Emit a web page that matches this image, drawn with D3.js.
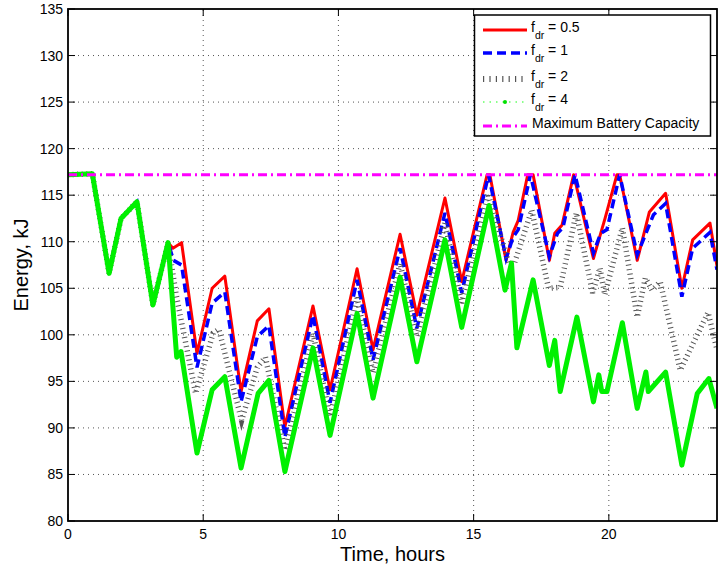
<!DOCTYPE html>
<html>
<head>
<meta charset="utf-8">
<script src="https://cdn.jsdelivr.net/npm/d3@7"></script>
<style>
  body { margin: 0; background: white; }
  text { font-family: "Liberation Sans", Arial, sans-serif; }
</style>
</head>
<body>
<svg id="chart" width="722" height="570"></svg>
<script>
  // values (time in hours, energy in kJ)
  let capacity = 117.2;
  let xTicks = [0, 5, 10, 15, 20];
  let yTicks = [80, 85, 90, 95, 100, 105, 110, 115, 120, 125, 130, 135];

  let tStart = [0, 0.9, 1.52, 1.96, 2.55, 3.14, 3.7];
  let eStart = [117.2, 117.3, 106.6, 112.5, 114.3, 103.2, 109.9];

  let tRed = [3.88, 4.2, 4.77, 5.33, 5.8, 6.4, 7.0, 7.43, 8.02, 9.06, 9.69, 10.69, 11.28, 12.28, 12.9, 13.94, 14.56, 15.5, 15.6, 16.2, 16.46, 16.65, 17.0, 17.2, 17.8, 18.0, 18.27, 18.7, 19.43, 19.86, 20.3, 20.4, 21.05, 21.5, 22.1, 22.7, 23.1, 23.74, 24.0];
  let eRed = [109.3, 109.9, 98.0, 105.0, 106.3, 93.9, 101.5, 102.8, 90.1, 103.1, 94.1, 107.1, 98.4, 110.8, 102.1, 114.7, 105.7, 117.2, 117.2, 108.0, 111.0, 112.3, 117.2, 117.2, 108.0, 110.9, 111.8, 117.2, 108.2, 112.5, 117.2, 117.2, 108.0, 113.2, 115.2, 105.0, 110.2, 112.0, 107.4];

  let tBlue = [3.9, 4.2, 4.77, 5.33, 5.8, 6.4, 7.0, 7.43, 8.02, 9.06, 9.69, 10.69, 11.28, 12.28, 12.9, 13.94, 14.56, 15.55, 16.2, 16.46, 16.65, 17.1, 17.8, 18.1, 18.3, 18.75, 19.43, 19.7, 19.93, 20.4, 21.05, 21.65, 22.1, 22.7, 23.1, 23.74, 24.0];
  let eBlue = [108.0, 107.5, 96.5, 103.4, 104.6, 92.8, 99.8, 101.0, 89.0, 102.1, 92.7, 105.9, 97.3, 109.3, 100.7, 113.1, 104.5, 117.2, 108.2, 110.5, 111.3, 117.2, 108.4, 110.9, 111.5, 117.2, 108.8, 110.9, 111.3, 117.2, 108.6, 112.9, 114.1, 104.1, 109.3, 111.0, 107.0];

  let tBlack = [4.0, 4.72, 5.37, 5.58, 6.42, 7.0, 7.3, 8.02, 9.06, 9.69, 10.69, 11.28, 12.28, 12.9, 13.94, 14.56, 15.53, 16.3, 16.5, 17.15, 17.77, 18.2, 18.8, 19.4, 19.67, 19.85, 20.5, 21.05, 21.35, 21.6, 21.9, 22.64, 23.67, 24.0];
  let eBlack = [104.3, 93.7, 100.2, 100.6, 90.8, 96.5, 97.6, 87.6, 100.2, 91.2, 104.0, 95.9, 107.7, 99.8, 112.0, 103.4, 115.2, 107.7, 107.6, 113.4, 105.0, 105.1, 113.1, 104.5, 107.2, 104.3, 111.5, 101.9, 106.1, 104.8, 105.7, 96.2, 102.4, 98.4];

  let tGreen = [4.02, 4.18, 4.77, 5.33, 5.8, 6.4, 7.03, 7.43, 8.02, 9.06, 9.69, 10.69, 11.28, 12.28, 12.9, 13.94, 14.56, 15.57, 16.16, 16.4, 16.6, 17.2, 17.8, 18.0, 18.2, 18.82, 19.43, 19.63, 19.74, 19.93, 20.5, 21.05, 21.37, 21.46, 22.1, 22.7, 23.27, 23.7, 24.0];
  let eGreen = [97.6, 98.2, 87.3, 94.1, 95.5, 85.7, 93.7, 95.1, 85.3, 98.6, 89.2, 102.3, 93.2, 106.2, 97.1, 110.2, 100.8, 113.9, 104.8, 107.7, 98.6, 105.9, 96.7, 99.4, 93.9, 101.9, 92.8, 95.7, 93.9, 93.9, 101.3, 92.1, 96.0, 93.9, 96.0, 86.0, 93.7, 95.3, 92.1];

  let legendLabels = ["0.5", "1", "2", "4"];

  let svg = d3.select("#chart"),
    width = +svg.attr("width"),
    height = +svg.attr("height");
  let margin = {top: 9, right: 5, bottom: 49, left: 68};

  let x = d3.scaleLinear().domain([0, 24]).range([margin.left, width - margin.right]);
  let y = d3.scaleLinear().domain([80, 135]).range([height - margin.bottom, margin.top]);

  function points(ts, es) {
    let pts = tStart.map(function(t, i){ return [t, eStart[i]]; });
    return pts.concat(ts.map(function(t, i){ return [t, es[i]]; }));
  }

  // grid
  let grid = svg.append("g");
  grid.selectAll(".gx").data(xTicks.slice(1)).enter().append("line")
    .attr("x1", function(d){ return x(d); }).attr("x2", function(d){ return x(d); })
    .attr("y1", y(80)).attr("y2", y(135))
    .attr("stroke", "#555").attr("stroke-width", 1).attr("stroke-dasharray", "1,4");
  grid.selectAll(".gy").data(yTicks.slice(1, -1)).enter().append("line")
    .attr("y1", function(d){ return y(d); }).attr("y2", function(d){ return y(d); })
    .attr("x1", x(0)).attr("x2", x(24))
    .attr("stroke", "#555").attr("stroke-width", 1).attr("stroke-dasharray", "1,4");

  svg.append("clipPath").attr("id", "clip").append("rect")
    .attr("x", x(0)).attr("y", y(135)).attr("width", x(24) - x(0)).attr("height", y(80) - y(135));

  let line = d3.line().x(function(d){ return x(d[0]); }).y(function(d){ return y(d[1]); });
  let plot = svg.append("g").attr("clip-path", "url(#clip)");

  plot.append("path").datum(points(tRed, eRed)).attr("d", line)
    .attr("fill", "none").attr("stroke", "#ff0000").attr("stroke-width", 3).attr("stroke-linejoin", "round");
  plot.append("path").datum(points(tBlue, eBlue)).attr("d", line)
    .attr("fill", "none").attr("stroke", "#0000ff").attr("stroke-width", 3.5).attr("stroke-dasharray", "9,5");
  plot.append("path").datum(points(tBlack, eBlack)).attr("d", line)
    .attr("fill", "none").attr("stroke", "#555").attr("stroke-width", 5.5).attr("stroke-dasharray", "1,3.6");
  plot.append("path").datum(points(tGreen, eGreen)).attr("d", line)
    .attr("fill", "none").attr("stroke", "#00f000").attr("stroke-width", 5).attr("stroke-linejoin", "round");
  plot.append("path").datum([[0, capacity], [24, capacity]]).attr("d", line)
    .attr("fill", "none").attr("stroke", "#ff00ff").attr("stroke-width", 3).attr("stroke-dasharray", "9,4,2,4");

  // axes (ticks inside, box on)
  let tick = 7;
  let axisG = svg.append("g");
  axisG.append("rect")
    .attr("x", x(0)).attr("y", y(135)).attr("width", x(24) - x(0)).attr("height", y(80) - y(135))
    .attr("fill", "none").attr("stroke", "#000").attr("stroke-width", 1.8);
  xTicks.forEach(function(d){
    axisG.append("line").attr("x1", x(d)).attr("x2", x(d)).attr("y1", y(80)).attr("y2", y(80) - tick).attr("stroke", "#000");
    axisG.append("line").attr("x1", x(d)).attr("x2", x(d)).attr("y1", y(135)).attr("y2", y(135) + tick).attr("stroke", "#000");
    axisG.append("text").attr("x", x(d)).attr("y", y(80) + 18).attr("text-anchor", "middle")
      .attr("font-size", 14).text(d);
  });
  yTicks.forEach(function(d){
    axisG.append("line").attr("y1", y(d)).attr("y2", y(d)).attr("x1", x(0)).attr("x2", x(0) + tick).attr("stroke", "#000");
    axisG.append("line").attr("y1", y(d)).attr("y2", y(d)).attr("x1", x(24)).attr("x2", x(24) - tick).attr("stroke", "#000");
    axisG.append("text").attr("x", x(0) - 5).attr("y", y(d) + 5).attr("text-anchor", "end")
      .attr("font-size", 14).text(d);
  });

  svg.append("text").attr("x", (x(0) + x(24)) / 2).attr("y", 561).attr("text-anchor", "middle")
    .attr("font-size", 20).text("Time, hours");
  svg.append("text").attr("transform", "translate(28," + ((y(80) + y(135)) / 2) + ") rotate(-90)")
    .attr("text-anchor", "middle").attr("font-size", 20).text("Energy, kJ");

  // legend
  let lg = svg.append("g");
  lg.append("rect").attr("x", 474.5).attr("y", 15).attr("width", 236).attr("height", 121)
    .attr("fill", "white").attr("stroke", "#000").attr("stroke-width", 1.5);
  let rows = [30, 53, 79, 102, 126];
  let styles = [
    {stroke: "#ff0000", w: 3, dash: null},
    {stroke: "#0000ff", w: 3.5, dash: "9,5"},
    {stroke: "#555", w: 6, dash: "1.2,5.2"},
    {stroke: "#66ff66", w: 1.5, dash: "1.5,5"},
    {stroke: "#ff00ff", w: 3, dash: "9,4,2,4"}
  ];
  styles.forEach(function(s, i){
    lg.append("line").attr("x1", 483).attr("x2", 527).attr("y1", rows[i]).attr("y2", rows[i])
      .attr("stroke", s.stroke).attr("stroke-width", s.w).attr("stroke-dasharray", s.dash);
  });
  lg.append("circle").attr("cx", 505).attr("cy", rows[3]).attr("r", 2).attr("fill", "#00e000");
  legendLabels.forEach(function(l, i){
    let t = lg.append("text").attr("x", 531).attr("y", rows[i] + 2).attr("font-size", 14);
    t.append("tspan").text("f");
    t.append("tspan").attr("font-size", 10.5).attr("dy", 7).text("dr");
    t.append("tspan").attr("dy", -7).text(" = " + l);
  });
  lg.append("text").attr("x", 532).attr("y", rows[4] + 2).attr("font-size", 14).text("Maximum Battery Capacity");
</script>
</body>
</html>
